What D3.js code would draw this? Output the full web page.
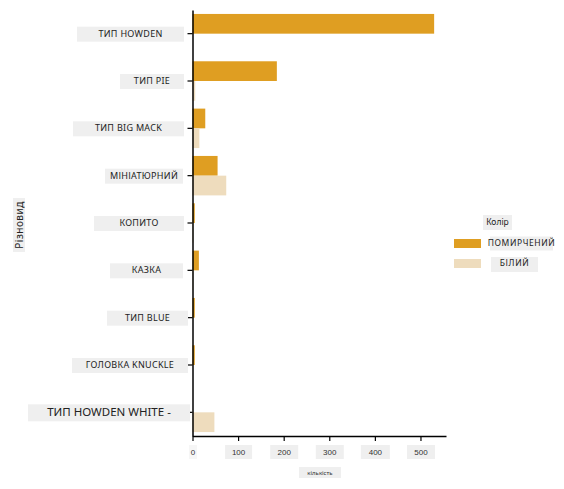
<!DOCTYPE html>
<html>
<head>
<meta charset="utf-8">
<script src="https://cdn.jsdelivr.net/npm/d3@7.9.0/dist/d3.min.js"></script>
<style>
  body { margin: 0; background: #fff; }
  svg { font-family: "Noto Sans", "Open Sans", sans-serif; }
</style>
</head>
<body>
<svg id="chart" width="564" height="489"></svg>
<script>
// Data
const categories = ['ТИП HOWDEN', 'ТИП PIE', 'ТИП BIG MACK', 'МІНІАТЮРНИЙ', 'КОПИТО',
  'КАЗКА', 'ТИП BLUE', 'ГОЛОВКА KNUCKLE', 'ТИП HOWDEN WHITE -'];
const seriesNames = ['ПОМИРЧЕНИЙ', 'БІЛИЙ'];
const ripeValues = [530, 185, 28, 55, 5, 14, 5, 5, 0];
const whiteValues = [0, 6, 15, 74, 2, 2, 0, 0, 48];
const xTicks = [0, 100, 200, 300, 400, 500];

// Styling / layout (not data)
const colors = ['#df9e22', '#eedcbd'];
const boxFill = '#efefef';
// left/right edges of the grey boxes behind the category labels
const labelBoxes = [[77, 184], [120, 184], [73, 184], [105, 183], [94, 184],
  [110, 183], [107, 188], [72, 188], [28, 190]];
const labelSizes = [9, 9, 9, 9, 9, 9, 9, 9, 11.5];
// half-widths of the grey boxes behind the x tick labels
const xTickBoxHalf = [4, 13.5, 14, 14, 14.5, 14];

const svg = d3.select('#chart');

const x = d3.scaleLinear().domain([0, 556]).range([192.5, 446]);
const y = d3.scaleBand().domain(categories).range([10, 436]).padding(0);
const ySub = d3.scaleBand().domain(seriesNames).range([0, y.bandwidth()])
  .paddingInner(0).paddingOuter(0.2);

const rows = categories.map((c, i) => ({ cat: c, values: [ripeValues[i], whiteValues[i]] }));

// Bars
const groups = svg.append('g').selectAll('g')
  .data(rows)
  .join('g')
  .attr('transform', (d) => `translate(0,${y(d.cat)})`);

groups.selectAll('rect')
  .data((d) => d.values.map((v, j) => ({ v, s: seriesNames[j], j })))
  .join('rect')
  .attr('x', x(0))
  .attr('y', (d) => ySub(d.s))
  .attr('width', (d) => x(d.v) - x(0))
  .attr('height', ySub.bandwidth())
  .attr('fill', (d) => colors[d.j]);

// Y axis
const yAxis = svg.append('g')
  .attr('transform', `translate(${x(0)},0)`)
  .call(d3.axisLeft(y).tickSize(5).tickSizeOuter(0));
yAxis.select('.domain').attr('stroke', '#000').attr('stroke-width', 1.5);
yAxis.selectAll('.tick line').attr('stroke', '#000').attr('stroke-width', 1.2);
yAxis.selectAll('.tick').each(function (d, i) {
  const tick = d3.select(this);
  const [l, r] = labelBoxes[i];
  const h = labelSizes[i] > 10 ? 17 : 15;
  const cx = (l + r) / 2 - x(0);
  tick.insert('rect', 'text')
    .attr('x', l - x(0))
    .attr('y', -h / 2 + 0.5)
    .attr('width', r - l)
    .attr('height', h)
    .attr('fill', boxFill);
  tick.select('text')
    .attr('x', cx)
    .attr('dy', '0.35em')
    .attr('text-anchor', 'middle')
    .attr('fill', '#222')
    .style('font-size', labelSizes[i] + 'px')
    .style('letter-spacing', labelSizes[i] > 10 ? '0px' : '0.3px')
    .style('font-family', '"Noto Sans", sans-serif');
});

// X axis
const xAxis = svg.append('g')
  .attr('transform', `translate(0,436)`)
  .call(d3.axisBottom(x).tickValues(xTicks).tickSize(5).tickSizeOuter(0));
xAxis.select('.domain').attr('stroke', '#000').attr('stroke-width', 1.5);
xAxis.selectAll('.tick line').attr('stroke', '#000').attr('stroke-width', 1.2);
xAxis.selectAll('.tick').each(function (d, i) {
  const tick = d3.select(this);
  const hw = xTickBoxHalf[i];
  tick.insert('rect', 'text')
    .attr('x', -hw)
    .attr('y', 9)
    .attr('width', hw * 2)
    .attr('height', 14)
    .attr('fill', i === 0 ? '#f6f6f6' : boxFill);
  tick.select('text')
    .attr('y', 16)
    .attr('dy', '0.35em')
    .attr('fill', '#333')
    .style('font-size', '8px');
});

// Axis titles
svg.append('rect').attr('x', 299).attr('y', 467).attr('width', 42).attr('height', 11).attr('fill', boxFill);
svg.append('text').attr('x', 320).attr('y', 472.5).attr('dy', '0.35em')
  .attr('text-anchor', 'middle').style('font-size', '6px').attr('fill', '#333')
  .text('кількість');

svg.append('rect').attr('x', 13).attr('y', 198).attr('width', 12).attr('height', 54).attr('fill', boxFill);
svg.append('text')
  .attr('transform', 'translate(19,225) rotate(-90)')
  .attr('dy', '0.35em')
  .attr('text-anchor', 'middle')
  .style('font-size', '10px')
  .style('letter-spacing', '0.5px')
  .attr('fill', '#222')
  .text('Різновид');

// Legend
const legend = svg.append('g');
legend.append('rect').attr('x', 483).attr('y', 215).attr('width', 29).attr('height', 15).attr('fill', boxFill);
legend.append('text').attr('x', 497.5).attr('y', 222.5).attr('dy', '0.35em')
  .attr('text-anchor', 'middle').style('font-size', '8.5px').attr('fill', '#222').text('Колір');

const legendBoxes = [[490, 553], [491, 538]];
const legendRows = legend.selectAll('g.item')
  .data(seriesNames)
  .join('g')
  .attr('class', 'item')
  .attr('transform', (d, i) => `translate(0,${243.5 + i * 20})`);
legendRows.append('rect')
  .attr('x', 454).attr('y', -4.5).attr('width', 27).attr('height', 9)
  .attr('fill', (d, i) => colors[i]);
legendRows.append('rect')
  .attr('x', (d, i) => legendBoxes[i][0])
  .attr('y', (d, i) => (i === 0 ? -7 : -6.5))
  .attr('width', (d, i) => legendBoxes[i][1] - legendBoxes[i][0])
  .attr('height', (d, i) => (i === 0 ? 14 : 15))
  .attr('fill', boxFill);
legendRows.append('text')
  .attr('x', (d, i) => (legendBoxes[i][0] + legendBoxes[i][1]) / 2)
  .attr('dy', '0.35em')
  .attr('text-anchor', 'middle')
  .style('font-size', '8.5px')
  .style('letter-spacing', '0.6px')
  .attr('fill', '#222')
  .text((d) => d);
</script>
</body>
</html>
